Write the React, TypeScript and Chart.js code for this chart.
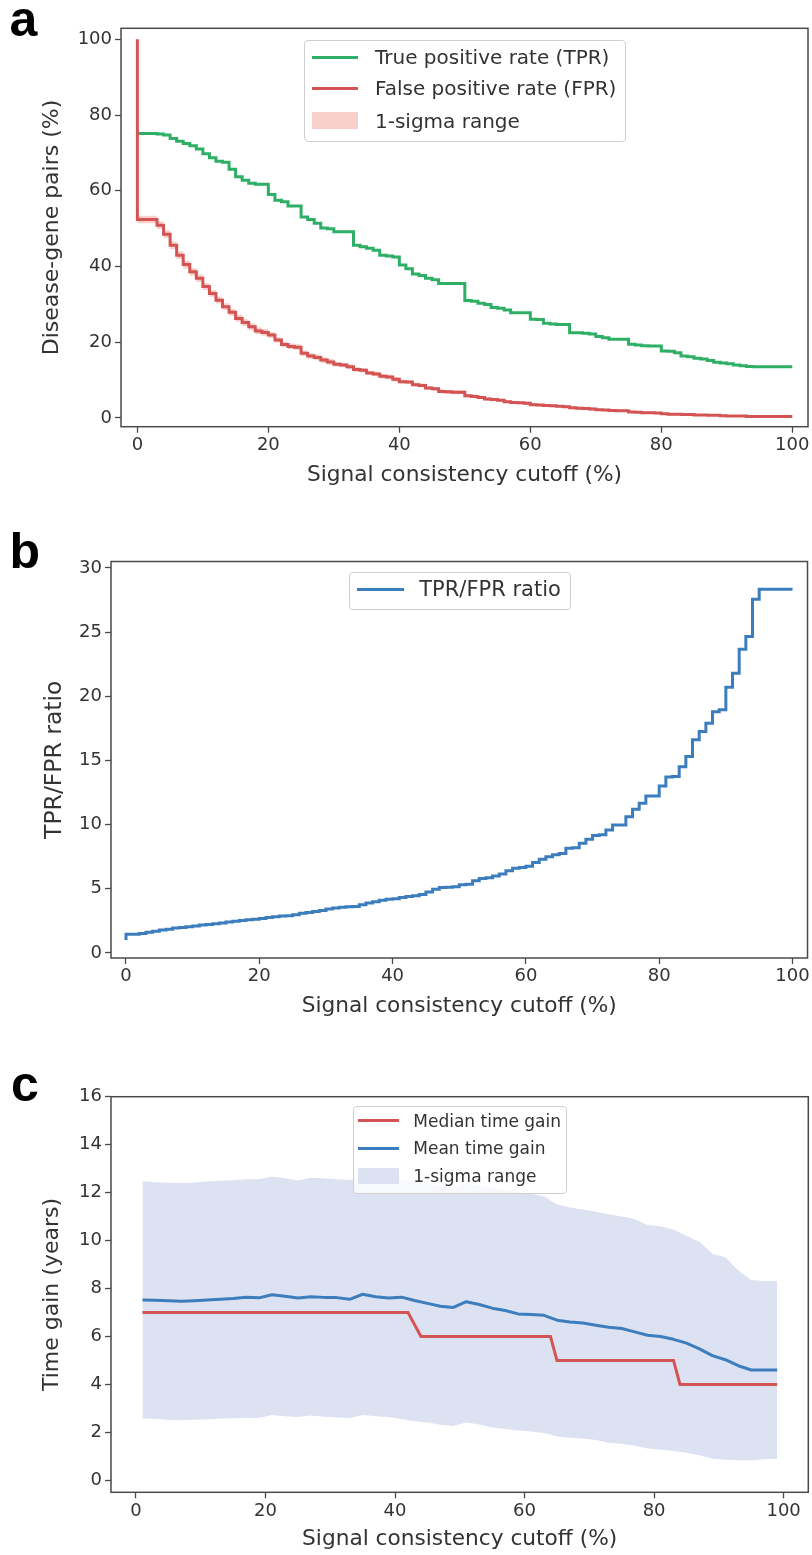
import React, { useEffect, useRef } from 'react';
import { Chart, registerables } from 'chart.js';

Chart.register(...registerables);

// ---------------- DATA ----------------
// Panel a/b: signal consistency cutoffs 0..100 (value i holds on (i-1, i])
const CUTOFFS_AB: number[] = Array.from({ length: 101 }, (_, i) => i);

const TPR: number[] = [
  75.1, 75.1, 75.1, 75.1, 75.0, 74.7, 73.8, 73.1, 72.5, 71.9,
  71.0, 69.8, 68.7, 67.8, 67.5, 65.7, 63.7, 62.8, 62.0, 61.7,
  61.7, 59.0, 57.5, 57.1, 56.0, 56.0, 53.1, 52.4, 51.4, 50.2,
  50.0, 49.2, 49.2, 49.2, 45.6, 45.2, 44.8, 44.3, 43.0, 42.8,
  42.5, 40.4, 39.4, 38.0, 37.6, 36.9, 36.5, 35.5, 35.5, 35.5,
  35.5, 31.0, 30.8, 30.3, 30.0, 29.2, 29.0, 28.5, 27.8, 27.8,
  27.8, 26.1, 26.0, 25.0, 24.8, 24.7, 24.7, 22.5, 22.5, 22.4,
  22.2, 21.5, 21.2, 20.8, 20.8, 20.8, 19.5, 19.3, 19.1, 19.0,
  19.0, 17.7, 17.6, 17.2, 16.4, 16.2, 15.8, 15.6, 15.2, 14.7,
  14.5, 14.3, 14.0, 13.8, 13.6, 13.5, 13.5, 13.5, 13.5, 13.5,
  13.5,
];

const FPR: number[] = [
  100, 52.4, 52.4, 52.4, 50.9, 48.5, 45.6, 43.0, 40.5, 38.6,
  36.9, 34.7, 32.9, 31.1, 29.4, 27.9, 26.3, 25.2, 24.1, 23.0,
  22.6, 21.9, 20.6, 19.4, 18.9, 18.7, 17.1, 16.4, 16.0, 15.3,
  14.8, 14.2, 14.0, 13.5, 12.8, 12.6, 11.9, 11.6, 11.0, 10.8,
  10.2, 9.6, 9.5, 8.8, 8.6, 7.9, 7.7, 7.0, 6.9, 6.8,
  6.8, 5.9, 5.7, 5.4, 5.0, 4.9, 4.7, 4.3, 4.1, 4.0,
  3.9, 3.5, 3.4, 3.3, 3.2, 3.1, 3.0, 2.7, 2.6, 2.5,
  2.4, 2.2, 2.1, 2.0, 1.9, 1.9, 1.6, 1.5, 1.4, 1.4,
  1.3, 1.1, 1.0, 1.0, 0.9, 0.9, 0.8, 0.8, 0.7, 0.7,
  0.6, 0.5, 0.5, 0.5, 0.4, 0.4, 0.4, 0.4, 0.4, 0.4,
  0.4,
];

const FPR_SIGMA: number[] = [
  0,
  1.0, 1.0, 1.0, 1.0, 1.0, 1.0, 1.0, 1.0, 1.0, 1.0,
  0.9, 0.9, 0.9, 0.9, 0.9, 0.9, 0.9, 0.9, 0.9, 0.9,
  0.75, 0.75, 0.75, 0.75, 0.75, 0.75, 0.75, 0.75, 0.75, 0.75,
  0.6, 0.6, 0.6, 0.6, 0.6, 0.6, 0.6, 0.6, 0.6, 0.6,
  0.5, 0.5, 0.5, 0.5, 0.5, 0.5, 0.5, 0.5, 0.5, 0.5,
  0.4, 0.4, 0.4, 0.4, 0.4, 0.4, 0.4, 0.4, 0.4, 0.4,
  0.35, 0.35, 0.35, 0.35, 0.35, 0.35, 0.35, 0.35, 0.35, 0.35,
  0.3, 0.3, 0.3, 0.3, 0.3, 0.3, 0.3, 0.3, 0.3, 0.3,
  0.25, 0.25, 0.25, 0.25, 0.25, 0.25, 0.25, 0.25, 0.25, 0.25,
  0.2, 0.2, 0.2, 0.2, 0.2, 0.2, 0.2, 0.2, 0.2, 0.2,
];

const RATIO: number[] = [
  1.0, 1.45, 1.45, 1.5, 1.6, 1.68, 1.78, 1.85, 1.93, 1.98,
  2.03, 2.1, 2.17, 2.22, 2.27, 2.33, 2.4, 2.46, 2.52, 2.58,
  2.62, 2.68, 2.75, 2.82, 2.88, 2.9, 2.97, 3.08, 3.15, 3.22,
  3.3, 3.42, 3.5, 3.55, 3.6, 3.62, 3.75, 3.88, 3.98, 4.1,
  4.18, 4.22, 4.32, 4.4, 4.45, 4.55, 4.75, 4.95, 5.1, 5.12,
  5.15, 5.3, 5.35, 5.62, 5.8, 5.85, 6.0, 6.15, 6.4, 6.6,
  6.65, 6.75, 7.05, 7.3, 7.5, 7.65, 7.75, 8.15, 8.2, 8.55,
  8.85, 9.15, 9.2, 9.58, 9.97, 9.97, 10.6, 11.2, 11.66, 12.23,
  12.23, 13.0, 13.7, 13.75, 14.5, 15.3, 16.6, 17.25, 17.9, 18.8,
  18.95, 20.7, 21.8, 23.66, 24.65, 27.56, 28.34, 28.34, 28.34, 28.34,
  28.34,
];

// Panel c: cutoffs 1..99 (odd)
const CUTOFFS_C: number[] = Array.from({ length: 50 }, (_, i) => 2 * i + 1);

const MEAN_GAIN: number[] = [
  7.52, 7.51, 7.49, 7.47, 7.49, 7.52, 7.55, 7.58, 7.64, 7.61,
  7.74, 7.68, 7.6, 7.66, 7.63, 7.62, 7.55, 7.76, 7.66, 7.6,
  7.64, 7.5, 7.38, 7.26, 7.21, 7.45, 7.33, 7.18, 7.08, 6.94,
  6.92, 6.88, 6.68, 6.6, 6.56, 6.47, 6.38, 6.33, 6.19, 6.05,
  6.0, 5.88, 5.72, 5.48, 5.2, 5.03, 4.78, 4.6, 4.6, 4.6,
];

const GAIN_UPPER: number[] = [
  12.47, 12.43, 12.41, 12.4, 12.42, 12.46, 12.49, 12.52, 12.56, 12.56,
  12.67, 12.6, 12.5, 12.62, 12.6, 12.56, 12.53, 12.66, 12.58, 12.52,
  12.55, 12.45, 12.35, 12.25, 12.2, 12.4, 12.3, 12.2, 12.1, 12.0,
  11.95, 11.85, 11.5, 11.38, 11.3, 11.2, 11.1, 11.0, 10.9, 10.65,
  10.6, 10.45, 10.2, 9.95, 9.45, 9.3, 8.75, 8.35, 8.31, 8.31,
];

const GAIN_LOWER: number[] = [
  2.58, 2.56, 2.53, 2.51, 2.53, 2.55, 2.57, 2.59, 2.6, 2.6,
  2.72, 2.67, 2.64, 2.7, 2.65, 2.62, 2.6, 2.72, 2.67, 2.64,
  2.56, 2.46, 2.41, 2.32, 2.27, 2.41, 2.33, 2.2, 2.14, 2.08,
  2.04, 1.97, 1.83, 1.78, 1.74, 1.68, 1.57, 1.52, 1.44, 1.33,
  1.27, 1.22, 1.15, 1.05, 0.9, 0.86, 0.84, 0.84, 0.88, 0.9,
];

const MEDIAN_X: number[] = [1, 42, 44, 64, 65, 83, 84, 99];
const MEDIAN_GAIN: number[] = [7, 7, 6, 6, 5, 5, 4, 4];

const X_TICKS = [0, 20, 40, 60, 80, 100];
const Y_TICKS_A = [0, 20, 40, 60, 80, 100];
const Y_TICKS_B = [0, 5, 10, 15, 20, 25, 30];
const Y_TICKS_C = [0, 2, 4, 6, 8, 10, 12, 14, 16];

const X_TITLE = 'Signal consistency cutoff (%)';

// ---------------- STYLE ----------------
const FONT = "'DejaVu Sans', sans-serif";
const TEXT = '#333333';
const FRAME = '#4a4a4a';
const GREEN = '#2fae66';
const RED = '#d45454';
const BLUE = '#3b7dbd';
const PINK = 'rgba(242,160,150,0.5)';
const BAND = '#dde2f2';

const framePlugin = {
  id: 'frame',
  afterDraw(chart: any) {
    const { ctx, chartArea: a } = chart;
    ctx.save();
    ctx.strokeStyle = FRAME;
    ctx.lineWidth = 1.5;
    ctx.strokeRect(a.left, a.top, a.right - a.left, a.bottom - a.top);
    ctx.restore();
  },
};

function pts(xs: number[], ys: number[]) {
  return xs.map((x, i) => ({ x, y: ys[i] }));
}

type Cfg = {
  datasets: any[];
  xMin: number; xMax: number; yMin: number; yMax: number;
  yTicks: number[];
  yTitle: string; yTitleSize: number; yTitlePad: number;
  yAxisWidth: number; xTitlePad: number;
  padding: { top: number; right: number; bottom: number; left: number };
};

function buildConfig(c: Cfg): any {
  const grid = {
    display: true, drawOnChartArea: false, drawTicks: true, tickLength: 6,
    color: FRAME, tickColor: FRAME, tickWidth: 1.3,
  };
  return {
    type: 'line',
    data: { datasets: c.datasets },
    plugins: [framePlugin],
    options: {
      responsive: false,
      animation: false,
      devicePixelRatio: 1,
      layout: { padding: c.padding },
      plugins: { legend: { display: false }, tooltip: { enabled: false } },
      elements: { point: { radius: 0 }, line: { tension: 0 } },
      scales: {
        x: {
          type: 'linear', min: c.xMin, max: c.xMax,
          afterBuildTicks: (s: any) => { s.ticks = X_TICKS.map((v) => ({ value: v })); },
          afterFit: (s: any) => { s.height = 62; },
          grid, border: { display: false },
          ticks: { font: { family: FONT, size: 18 }, color: TEXT, padding: 2, maxRotation: 0, autoSkip: false },
          title: {
            display: true, text: X_TITLE, color: TEXT,
            font: { family: FONT, size: 21.7, lineHeight: 1.2 },
            padding: { top: 0, bottom: c.xTitlePad },
          },
        },
        y: {
          type: 'linear', min: c.yMin, max: c.yMax,
          afterBuildTicks: (s: any) => { s.ticks = c.yTicks.map((v) => ({ value: v })); },
          afterFit: (s: any) => { s.width = c.yAxisWidth; },
          grid, border: { display: false },
          ticks: { font: { family: FONT, size: 18 }, color: TEXT, padding: 3, autoSkip: false },
          title: {
            display: true, text: c.yTitle, color: TEXT,
            font: { family: FONT, size: c.yTitleSize, lineHeight: 1.2 },
            padding: { top: c.yTitlePad, bottom: 0 },
          },
        },
      },
    },
  };
}

function ChartCanvas({ top, height, cfg }: { top: number; height: number; cfg: Cfg }) {
  const ref = useRef<HTMLCanvasElement | null>(null);
  useEffect(() => {
    if (!ref.current) return;
    const chart = new Chart(ref.current, buildConfig(cfg));
    return () => chart.destroy();
  }, []);
  return (
    <canvas
      ref={ref}
      width={812}
      height={height}
      style={{ position: 'absolute', left: 0, top, width: 812, height }}
    />
  );
}

type LegItem = { kind: 'line' | 'patch'; color: string; label: string; cy: number };

function Legend(p: {
  left: number; top: number; width: number; height: number;
  items: LegItem[]; sx: number; sw: number; tx: number; fs: number; ph: number;
}) {
  return (
    <div
      style={{
        position: 'absolute', left: p.left, top: p.top, width: p.width, height: p.height,
        boxSizing: 'border-box', border: '1px solid #cfcfcf', borderRadius: 4,
        background: 'rgba(255,255,255,0.8)',
      }}
    >
      {p.items.map((it, i) => (
        <React.Fragment key={i}>
          {it.kind === 'line' ? (
            <div style={{ position: 'absolute', left: p.sx - 1, top: it.cy - 1.5 - 1, width: p.sw, height: 3, background: it.color }} />
          ) : (
            <div style={{ position: 'absolute', left: p.sx - 1, top: it.cy - p.ph / 2 - 1, width: p.sw, height: p.ph, background: it.color }} />
          )}
          <div
            style={{
              position: 'absolute', left: p.tx - 1, top: it.cy - 12 - 1, height: 24, lineHeight: '24px',
              fontFamily: FONT, fontSize: p.fs, color: TEXT, whiteSpace: 'nowrap',
            }}
          >
            {it.label}
          </div>
        </React.Fragment>
      ))}
    </div>
  );
}

function PanelLetter({ text, left, top }: { text: string; left: number; top: number }) {
  return (
    <div
      style={{
        position: 'absolute', left, top, fontFamily: "'Liberation Sans', Arial, sans-serif",
        fontWeight: 'bold', fontSize: 50, lineHeight: '50px', color: '#000',
      }}
    >
      {text}
    </div>
  );
}

export default function App() {
  const fprUpper = FPR.map((v, i) => v + FPR_SIGMA[i]);
  const fprLower = FPR.map((v, i) => v - FPR_SIGMA[i]);

  const cfgA: Cfg = {
    datasets: [
      { label: 'False positive rate (FPR)', data: pts(CUTOFFS_AB, FPR), borderColor: RED, borderWidth: 3, stepped: 'after', fill: false, pointRadius: 0, borderJoinStyle: 'miter' },
      { label: 'True positive rate (TPR)', data: pts(CUTOFFS_AB, TPR), borderColor: GREEN, borderWidth: 3, stepped: 'after', fill: false, pointRadius: 0, borderJoinStyle: 'miter' },
      { label: 'upper', data: pts(CUTOFFS_AB, fprUpper), borderColor: 'rgba(0,0,0,0)', borderWidth: 0, backgroundColor: PINK, stepped: 'after', fill: '+1', pointRadius: 0 },
      { label: 'lower', data: pts(CUTOFFS_AB, fprLower), borderColor: 'rgba(0,0,0,0)', borderWidth: 0, stepped: 'after', fill: false, pointRadius: 0 },
    ],
    xMin: -2.5, xMax: 102.4, yMin: -2.3, yMax: 102.9,
    yTicks: Y_TICKS_A,
    yTitle: 'Disease-gene pairs (%)', yTitleSize: 22, yTitlePad: 39.3,
    yAxisWidth: 121, xTitlePad: 0,
    padding: { top: 28.3, right: 4, bottom: 11.3, left: 0 },
  };

  const cfgB: Cfg = {
    datasets: [
      { label: 'TPR/FPR ratio', data: pts(CUTOFFS_AB, RATIO), borderColor: BLUE, borderWidth: 3, stepped: 'after', fill: false, pointRadius: 0, borderJoinStyle: 'miter' },
    ],
    xMin: -2.25, xMax: 102.25, yMin: -0.4, yMax: 30.5,
    yTicks: Y_TICKS_B,
    yTitle: 'TPR/FPR ratio', yTitleSize: 23.5, yTitlePad: 40.9,
    yAxisWidth: 111, xTitlePad: 0.5,
    padding: { top: 61.5, right: 4.5, bottom: 10, left: 0 },
  };

  const cfgC: Cfg = {
    datasets: [
      { label: 'Median time gain', data: pts(MEDIAN_X, MEDIAN_GAIN), borderColor: RED, borderWidth: 3, fill: false, pointRadius: 0 },
      { label: 'Mean time gain', data: pts(CUTOFFS_C, MEAN_GAIN), borderColor: BLUE, borderWidth: 3, fill: false, pointRadius: 0, borderJoinStyle: 'round' },
      { label: 'upper', data: pts(CUTOFFS_C, GAIN_UPPER), borderColor: 'rgba(0,0,0,0)', borderWidth: 0, backgroundColor: BAND, fill: '+1', pointRadius: 0 },
      { label: 'lower', data: pts(CUTOFFS_C, GAIN_LOWER), borderColor: 'rgba(0,0,0,0)', borderWidth: 0, fill: false, pointRadius: 0 },
    ],
    xMin: -3.86, xMax: 103.81, yMin: -0.5, yMax: 16,
    yTicks: Y_TICKS_C,
    yTitle: 'Time gain (years)', yTitleSize: 22, yTitlePad: 39.2,
    yAxisWidth: 111, xTitlePad: 1.5,
    padding: { top: 56.7, right: 3.7, bottom: 0.7, left: 0 },
  };

  return (
    <div style={{ position: 'absolute', left: 0, top: 0, width: 812, height: 1555, background: '#fff', overflow: 'hidden' }}>
      <ChartCanvas top={0} height={500} cfg={cfgA} />
      <ChartCanvas top={500} height={530} cfg={cfgB} />
      <ChartCanvas top={1040} height={515} cfg={cfgC} />

      <PanelLetter text="a" left={9.4} top={-5.6} />
      <PanelLetter text="b" left={9.5} top={526} />
      <PanelLetter text="c" left={11} top={1059.4} />

      <Legend
        left={304.3} top={40} width={321.7} height={101.7}
        sx={7.4} sw={46.6} tx={70.7} fs={20} ph={16.7}
        items={[
          { kind: 'line', color: GREEN, label: 'True positive rate (TPR)', cy: 17.3 },
          { kind: 'line', color: RED, label: 'False positive rate (FPR)', cy: 48.3 },
          { kind: 'patch', color: PINK, label: '1-sigma range', cy: 80.7 },
        ]}
      />
      <Legend
        left={349.2} top={571.7} width={221.6} height={38.3}
        sx={7.8} sw={46.7} tx={70.1} fs={21} ph={16}
        items={[{ kind: 'line', color: BLUE, label: 'TPR/FPR ratio', cy: 17.6 }]}
      />
      <Legend
        left={352.7} top={1106} width={214} height={88}
        sx={5.6} sw={41} tx={60.6} fs={17} ph={15.7}
        items={[
          { kind: 'line', color: RED, label: 'Median time gain', cy: 14.7 },
          { kind: 'line', color: BLUE, label: 'Mean time gain', cy: 42.3 },
          { kind: 'patch', color: BAND, label: '1-sigma range', cy: 70 },
        ]}
      />
    </div>
  );
}
